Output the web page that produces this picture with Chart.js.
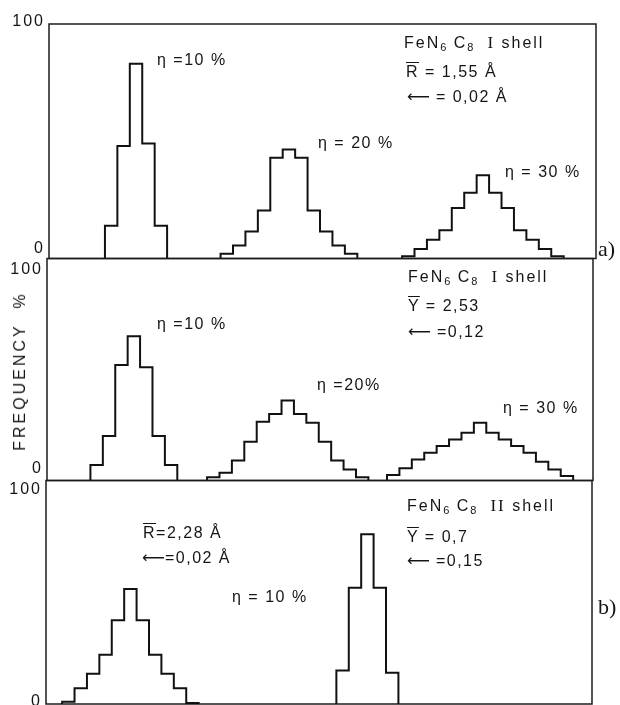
<!DOCTYPE html>
<html>
<head>
<meta charset="utf-8">
<script src="https://cdn.jsdelivr.net/npm/chart.js@4"></script>
<style>
  html, body { margin: 0; padding: 0; background: #fff; }
  #wrap { position: relative; width: 620px; height: 705px; overflow: hidden; }
  canvas { position: absolute; left: 0; top: 0; }
  .t {
    position: absolute; white-space: nowrap; color: #151515;
    font-family: "Liberation Sans", Arial, sans-serif; font-size: 16px; line-height: 16px;
    letter-spacing: 1.5px; transform: translateY(-50%);
  }
  .wide { letter-spacing: 2px; }
  .ov { text-decoration: overline; }
  .arr { font-family: "DejaVu Sans", sans-serif; letter-spacing: 0; }
  .rom { font-family: "Liberation Serif", serif; font-size: 17px; }
  .tag { font-family: "Liberation Serif", serif; font-size: 22px; line-height: 22px; letter-spacing: 0; }
  sub { font-size: 11px; vertical-align: -3px; line-height: 0; letter-spacing: 1px; }
  #freq {
    position: absolute; left: 20px; top: 371px; white-space: nowrap; color: #151515;
    font-family: "Liberation Sans", Arial, sans-serif; font-size: 16px; letter-spacing: 3px;
    transform: translate(-50%, -50%) rotate(-90deg);
  }
</style>
</head>
<body>
<div id="wrap">
  <canvas id="panelA" width="620" height="705"></canvas>
  <canvas id="panelB" width="620" height="705"></canvas>
  <canvas id="panelC" width="620" height="705"></canvas>

  <div id="freq">FREQUENCY&nbsp;&nbsp;%</div>

  <!-- a) upper panel -->
  <div class="t" style="left:157px; top:60px">η =10 %</div>
  <div class="t wide" style="left:404px; top:43px">FeN<sub>6</sub> C<sub>8</sub>&nbsp;&nbsp;<span class="rom">I</span> shell</div>
  <div class="t" style="left:406px; top:72px"><span class="ov">R</span> = 1,55 Å</div>
  <div class="t" style="left:407px; top:97px"><span class="arr">⟵</span> = 0,02 Å</div>
  <div class="t" style="left:318px; top:143px">η = 20 %</div>
  <div class="t" style="left:505px; top:172px">η = 30 %</div>
  <div class="t tag" style="left:598px; top:249px">a)</div>

  <!-- a) middle panel -->
  <div class="t" style="left:157px; top:324px">η =10 %</div>
  <div class="t wide" style="left:408px; top:277px">FeN<sub>6</sub> C<sub>8</sub>&nbsp;&nbsp;<span class="rom">I</span> shell</div>
  <div class="t" style="left:408px; top:306px"><span class="ov">Y</span> = 2,53</div>
  <div class="t" style="left:408px; top:332px"><span class="arr">⟵</span> =0,12</div>
  <div class="t" style="left:317px; top:385px">η =20%</div>
  <div class="t" style="left:503px; top:408px">η = 30 %</div>

  <!-- b) lower panel -->
  <div class="t" style="left:143px; top:533px"><span class="ov">R</span>=2,28 Å</div>
  <div class="t" style="left:142px; top:558px"><span class="arr">⟵</span>=0,02 Å</div>
  <div class="t" style="left:232px; top:597px">η = 10 %</div>
  <div class="t wide" style="left:407px; top:506px">FeN<sub>6</sub> C<sub>8</sub>&nbsp;&nbsp;<span class="rom">II</span> shell</div>
  <div class="t" style="left:407px; top:537px"><span class="ov">Y</span> = 0,7</div>
  <div class="t" style="left:407px; top:561px"><span class="arr">⟵</span> =0,15</div>
  <div class="t tag" style="left:598px; top:607px">b)</div>
</div>

<script>
// frequency (%) per bin; each histogram starts at the given bin position
const aEta10 = [14, 48, 83, 49, 14];
const aEta10Start = 4.5;
const aEta20 = [2, 5.5, 11.5, 20.5, 43, 46.5, 43, 20.5, 11.5, 5.5, 2];
const aEta20Start = 13.8;
const aEta30 = [1, 4, 8, 12, 21.5, 28, 35.5, 28, 21.5, 12, 8, 4, 1];
const aEta30Start = 28.4;

const yEta10 = [7, 20, 52, 65, 51, 20, 7];
const yEta10Start = 3.5;
const yEta20 = [1.5, 3.5, 9, 17.5, 26.5, 30, 36, 30, 26, 17.5, 9, 5, 1.5];
const yEta20Start = 12.9;
const yEta30 = [2.5, 5.5, 9.5, 12.5, 15.5, 18.5, 21.5, 26, 21.5, 18.5, 15.5, 12.5, 8.5, 5, 2];
const yEta30Start = 27.4;

const bR = [1, 7, 13.5, 22, 37.5, 51.5, 37.5, 22, 13.5, 7, 0.5];
const bRStart = 1.3;
const bY = [15, 52, 76, 52, 14];
const bYStart = 23.4;

const yTicks = [0, 100];
const binCount = 44;

// outline of a histogram: bin heights held over each bin, closed down to zero
function outline(values, start) {
    let pts = [{x: start, y: 0}];
    values.forEach((v, i) => pts.push({x: start + i, y: v}));
    pts.push({x: start + values.length, y: 0});
    return pts;
}

const frame = {
    id: 'frame',
    beforeDatasetsDraw(chart) {
        const {ctx, chartArea: a} = chart;
        ctx.save();
        ctx.strokeStyle = '#1c1c1c';
        ctx.lineWidth = 1.5;
        ctx.strokeRect(a.left, a.top, a.right - a.left, a.bottom - a.top);
        ctx.restore();
    }
};

// hand lettered 0 / 100 labels, each nudged off its tick a little
const tickLabels = {
    id: 'tickLabels',
    afterDraw(chart, args, opts) {
        const {ctx, chartArea, scales} = chart;
        ctx.save();
        ctx.font = '16px "Liberation Sans", Arial, sans-serif';
        ctx.letterSpacing = '2px';
        ctx.fillStyle = '#151515';
        ctx.textAlign = 'right';
        ctx.textBaseline = 'middle';
        yTicks.forEach((v, i) => {
            ctx.fillText(String(v), chartArea.left - 4, scales.y.getPixelForValue(v) + opts.nudge[i]);
        });
        ctx.restore();
    }
};

function makePanel(id, box, hists, nudge) {
    return new Chart(document.getElementById(id), {
        type: 'scatter',
        data: {
            datasets: hists.map(h => ({
                data: outline(h[0], h[1]),
                showLine: true,
                stepped: true,
                borderColor: '#111',
                borderWidth: 2,
                pointRadius: 0,
                fill: false
            }))
        },
        options: {
            responsive: false,
            animation: false,
            events: [],
            layout: {
                padding: {left: box.left, top: box.top, right: 620 - box.right, bottom: 705 - box.bottom}
            },
            scales: {
                x: {type: 'linear', min: 0, max: binCount, display: false},
                y: {min: 0, max: 100, display: false}
            },
            plugins: {
                legend: {display: false},
                tooltip: {enabled: false},
                tickLabels: {nudge: nudge}
            }
        },
        plugins: [frame, tickLabels]
    });
}

makePanel('panelA', {left: 49, top: 24, right: 596, bottom: 258.5},
    [[aEta10, aEta10Start], [aEta20, aEta20Start], [aEta30, aEta30Start]], [-9.5, -2]);
makePanel('panelB', {left: 47, top: 258.5, right: 593, bottom: 480.5},
    [[yEta10, yEta10Start], [yEta20, yEta20Start], [yEta30, yEta30Start]], [-11.5, 11]);
makePanel('panelC', {left: 46, top: 480.5, right: 592, bottom: 704},
    [[bR, bRStart], [bY, bYStart]], [-2, 9.5]);
</script>
</body>
</html>
